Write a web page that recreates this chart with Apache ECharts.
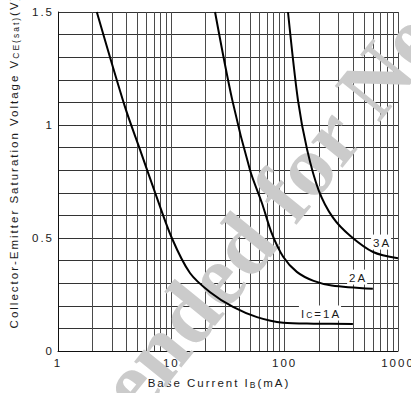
<!DOCTYPE html>
<html>
<head>
<meta charset="utf-8">
<script src="https://cdn.jsdelivr.net/npm/echarts@6/dist/echarts.min.js"></script>
<style>
html, body { margin: 0; padding: 0; background: #fff; }
#chart { width: 411px; height: 393px; }
/* the datasheet text is tracked out */
#chart text[style*="Liberation Sans"] { letter-spacing: 2px; }
</style>
</head>
<body>
<div id="chart"></div>
<script>
// base current IB (mA) vs VCE(sat) (V), one curve per collector current
var ic1A = [[2.2, 1.5], [3.9, 1.08], [5.3, 0.89], [7.2, 0.70], [10.1, 0.50], [14.6, 0.345], [22, 0.26], [35, 0.195], [57, 0.15], [97, 0.125], [180, 0.121], [400, 0.12]];
var ic2A = [[24.3, 1.5], [34.5, 1.11], [49.5, 0.80], [63, 0.655], [77, 0.52], [97, 0.417], [128, 0.35], [180, 0.31], [260, 0.29], [600, 0.275]];
var ic3A = [[107, 1.5], [131, 1.11], [158, 0.89], [200, 0.71], [267, 0.59], [378, 0.51], [603, 0.438], [1000, 0.41]];

var curveNames = ['Ic=1A', '2A', '3A'];
var curveLabels = ['I{s|C}=1A', '2A', '3A'];
var labelAt = [[205, 0.168], [436, 0.327], [709, 0.482]];

var ibMinor = [2, 3, 4, 5, 6, 7, 8, 9, 20, 30, 40, 50, 60, 70, 80, 90, 200, 300, 400, 500, 600, 700, 800, 900];
var vMajor = [0, 0.5, 1, 1.5];

var SPACING = 2;
var mctx = document.createElement('canvas').getContext('2d');
echarts.setPlatformAPI({
  measureText: function (text, font) {
    mctx.font = font || '12px sans-serif';
    var m = mctx.measureText(text);
    var w = m.width;
    if (font && font.indexOf('Liberation Sans') >= 0) {
      w += SPACING * text.length;
    }
    return {
      width: w,
      actualBoundingBoxAscent: m.actualBoundingBoxAscent,
      actualBoundingBoxDescent: m.actualBoundingBoxDescent,
      fontBoundingBoxAscent: m.fontBoundingBoxAscent,
      fontBoundingBoxDescent: m.fontBoundingBoxDescent
    };
  }
});

var chart = echarts.init(document.getElementById('chart'), null, { renderer: 'svg' });

var font = 'Liberation Sans';
var ink = '#1a1a1a';
var gridColor = '#4a4a4a';
var rot = 51 * Math.PI / 180;
var wmFont = 'bold 88px "Liberation Serif"';

var curves = [ic1A, ic2A, ic3A];
var series = curves.map(function (d, i) {
  return {
    name: curveNames[i],
    type: 'line',
    data: d,
    symbol: 'none',
    smooth: 0.3,
    lineStyle: { color: '#000', width: 2 },
    z: 3,
    markPoint: {
      symbol: 'rect',
      symbolSize: 0,
      z: 6,
      silent: true,
      data: [{ coord: labelAt[i] }],
      label: {
        show: true,
        position: 'inside',
        formatter: curveLabels[i],
        fontFamily: font,
        fontSize: 11.5,
        color: ink,
        backgroundColor: '#fff',
        padding: [1, 0, 0, 2],
        rich: {
          s: { fontFamily: font, fontSize: 8.5, color: ink, verticalAlign: 'bottom' }
        }
      }
    }
  };
});

// minor log gridlines
series.push({
  type: 'line',
  data: [],
  markLine: {
    silent: true,
    symbol: 'none',
    z: 0,
    label: { show: false },
    lineStyle: { color: gridColor, width: 1, type: 'solid' },
    data: ibMinor.map(function (v) { return { xAxis: v }; })
  }
});

chart.setOption({
  animation: false,
  backgroundColor: '#fff',
  grid: { left: 58, right: 13, top: 12, bottom: 42, outerBoundsMode: 'none', containLabel: false },
  graphic: [
    {
      type: 'text', x: 258, y: 226, rotation: rot, z: 1, silent: true,
      style: { text: 'Not Recommended', font: wmFont, fill: '#cbcbcb', textAlign: 'right', textVerticalAlign: 'middle' }
    },
    {
      type: 'text', x: 272, y: 208, rotation: rot, z: 1, silent: true,
      style: { text: 'for New Design', font: wmFont, fill: '#cbcbcb', textAlign: 'left', textVerticalAlign: 'middle' }
    }
  ],
  xAxis: {
    type: 'log',
    logBase: 10,
    min: 1,
    max: 1000,
    name: 'Base Current I{s|B}(mA)',
    nameLocation: 'middle',
    nameGap: 25,
    nameTextStyle: {
      fontFamily: font, fontSize: 11.5, color: ink,
      padding: [0, 18, 0, 0],
      rich: { s: { fontFamily: font, fontSize: 8.5, color: ink, verticalAlign: 'bottom' } }
    },
    axisLine: { show: true, lineStyle: { color: '#111', width: 1 } },
    axisTick: { show: false },
    axisLabel: {
      fontFamily: font, fontSize: 11.5, color: ink, margin: 5,
      formatter: function (v) { return String(Math.round(v)); }
    },
    splitLine: { show: true, lineStyle: { color: gridColor, width: 1 } }
  },
  yAxis: {
    type: 'value',
    min: 0,
    max: 1.5,
    interval: 0.1,
    name: 'Collector-Emitter Saturation Voltage V{s|CE(sat)}(V)',
    nameLocation: 'middle',
    nameGap: 33,
    nameTextStyle: {
      fontFamily: font, fontSize: 11.5, color: ink,
      padding: [0, 0, 0, 40],
      rich: { s: { fontFamily: font, fontSize: 8.5, color: ink, verticalAlign: 'bottom' } }
    },
    axisLine: { show: true, lineStyle: { color: '#111', width: 1 } },
    axisTick: { show: false },
    axisLabel: {
      fontFamily: font, fontSize: 11.5, color: ink, margin: 4,
      formatter: function (v) {
        for (var i = 0; i < vMajor.length; i++) {
          if (Math.abs(v - vMajor[i]) < 1e-6) return String(vMajor[i]);
        }
        return '';
      }
    },
    splitLine: { show: true, lineStyle: { color: '#333', width: 1 } }
  },
  series: series
});
</script>
</body>
</html>
